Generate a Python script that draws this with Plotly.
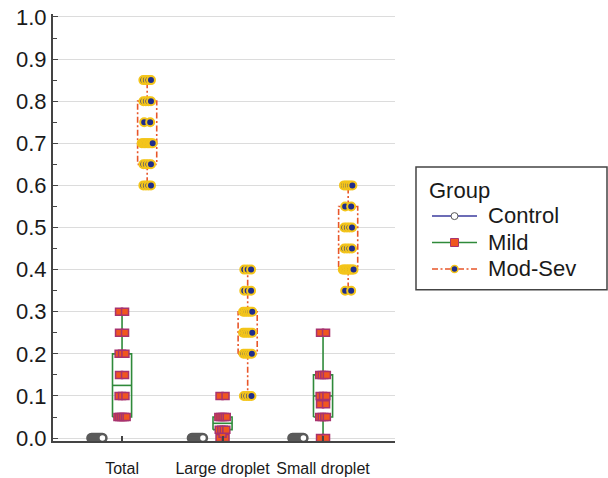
import numpy as np
import plotly.graph_objects as go

# ---- data -------------------------------------------------------------
categories = ["Total", "Large droplet", "Small droplet"]
group_names = ["Control", "Mild", "Mod-Sev"]

control_total = [0.0, 0.0, 0.0, 0.0, 0.0, 0.0, 0.0, 0.0, 0.0, 0.0, 0.0, 0.0]
control_large = [0.0, 0.0, 0.0, 0.0, 0.0, 0.0, 0.0, 0.0, 0.0, 0.0, 0.0, 0.0]
control_small = [0.0, 0.0, 0.0, 0.0, 0.0, 0.0, 0.0, 0.0, 0.0, 0.0, 0.0, 0.0]

mild_total = [0.05, 0.05, 0.05, 0.05, 0.05, 0.05, 0.10, 0.10, 0.10,
              0.15, 0.15, 0.20, 0.20, 0.20, 0.25, 0.25, 0.30, 0.30]
mild_large = [0.0, 0.0, 0.01, 0.02, 0.02, 0.02, 0.02,
              0.05, 0.05, 0.05, 0.05, 0.05, 0.10, 0.10]
mild_small = [0.0, 0.0, 0.05, 0.05, 0.05, 0.05, 0.08, 0.08, 0.10, 0.10, 0.10,
              0.15, 0.15, 0.15, 0.15, 0.25, 0.25]

modsev_total = [0.60, 0.60, 0.60, 0.60, 0.65, 0.65, 0.65, 0.65,
                0.70, 0.70, 0.70, 0.70, 0.70, 0.70, 0.70, 0.70, 0.70,
                0.75, 0.75, 0.80, 0.80, 0.80, 0.80, 0.85, 0.85, 0.85, 0.85]
modsev_large = [0.10, 0.10, 0.10, 0.10, 0.20, 0.20, 0.20, 0.20, 0.20,
                0.25, 0.25, 0.25, 0.25, 0.25, 0.25,
                0.30, 0.30, 0.30, 0.30, 0.30, 0.30,
                0.35, 0.35, 0.35, 0.40, 0.40, 0.40]
modsev_small = [0.35, 0.35, 0.40, 0.40, 0.40, 0.40, 0.40, 0.40, 0.40, 0.40,
                0.45, 0.45, 0.45, 0.45, 0.50, 0.50, 0.50, 0.50,
                0.55, 0.55, 0.60, 0.60, 0.60, 0.60, 0.60]

series = {
    "Control": [control_total, control_large, control_small],
    "Mild": [mild_total, mild_large, mild_small],
    "Mod-Sev": [modsev_total, modsev_large, modsev_small],
}

# ---- styling ----------------------------------------------------------
FONT = "Arial, Liberation Sans, sans-serif"
DASHDOT = "6px,2.5px,2px,2.5px"
styles = {
    "Control": dict(line="#3b3b9e", dash="solid", symbol="circle", size=8,
                    fill="#ffffff", edge="#5a5a5a", edge_w=2.5,
                    leg_size=7, leg_edge_w=1),
    "Mild": dict(line="#2f8a3a", dash="solid", symbol="square", size=7,
                 fill="#f0561f", edge="#a8336e", edge_w=1.5,
                 leg_size=8, leg_edge_w=1),
    "Mod-Sev": dict(line="#e8562a", dash=DASHDOT, symbol="circle", size=8,
                    fill="#1f2d8c", edge="#f4c51a", edge_w=2,
                    leg_size=7, leg_edge_w=1.5),
}
group_offset = {"Control": -0.25, "Mild": 0.0, "Mod-Sev": 0.25}
BOX_W = 0.19
PX = 1 / 100.5  # data units per screen pixel along x


def spread(n):
    """Horizontal offsets (data units) for n tied points."""
    if n == 1:
        return np.array([0.0])
    span = min(11.0, 6.0 + 0.8 * (n - 2))
    return np.linspace(-span / 2, span / 2, n) * PX


def box_stats(vals):
    v = np.sort(np.asarray(vals, dtype=float))
    q1, med, q3 = np.percentile(v, [25, 50, 75], method="hazen")
    iqr = q3 - q1
    lo = v[v >= q1 - 1.5 * iqr].min()
    hi = v[v <= q3 + 1.5 * iqr].max()
    return q1, med, q3, lo, hi


fig = go.Figure()

# boxes
for g in group_names:
    st = styles[g]
    for ci, vals in enumerate(series[g]):
        cx = ci + group_offset[g]
        q1, med, q3, lo, hi = box_stats(vals)
        l, r = cx - BOX_W / 2, cx + BOX_W / 2
        xs = [l, r, r, l, l, None, l, r, None, cx, cx, None, cx, cx]
        ys = [q1, q1, q3, q3, q1, None, med, med, None, q3, hi, None, q1, lo]
        fig.add_trace(go.Scatter(
            x=xs, y=ys, mode="lines", showlegend=False, hoverinfo="skip",
            line=dict(color=st["line"], width=1.6, dash=st["dash"]),
        ))

# points, tied values spread sideways
for ci in range(len(categories)):
    for g in group_names:
        st = styles[g]
        vals = np.asarray(series[g][ci], dtype=float)
        xs, ys = [], []
        for v in sorted(set(vals.tolist())):
            n = int((vals == v).sum())
            xs.extend((ci + group_offset[g] + spread(n)).tolist())
            ys.extend([v] * n)
        fig.add_trace(go.Scatter(
            x=xs, y=ys, mode="markers", showlegend=False, name=g,
            marker=dict(symbol=st["symbol"], size=st["size"], color=st["fill"],
                        line=dict(color=st["edge"], width=st["edge_w"])),
        ))

# legend entries (label drawn a bit larger than the row height implies)
for g in group_names:
    st = styles[g]
    fig.add_trace(go.Scatter(
        x=[None], y=[None], mode="lines+markers",
        name='<span style="font-size:22px">\u00a0' + g + "</span>",
        line=dict(color=st["line"], width=1.5, dash=st["dash"]),
        marker=dict(symbol=st["symbol"], size=st["leg_size"], color=st["fill"],
                    line=dict(color=st["edge"], width=st["leg_edge_w"])),
    ))

# frame around the legend
fig.add_shape(type="rect", xref="paper", yref="paper",
              x0=1.0614, x1=1.6199, y0=0.354, y1=0.6414,
              line=dict(color="#444444", width=1.5), fillcolor="rgba(0,0,0,0)")

fig.update_layout(
    width=608, height=478,
    margin=dict(l=53, r=213, t=13.5, b=36.5, autoexpand=False),
    paper_bgcolor="white", plot_bgcolor="white",
    font=dict(family=FONT, color="#1a1a1a"),
    showlegend=True,
    legend=dict(
        title=dict(text="Group", font=dict(size=22, family=FONT)),
        font=dict(size=18, family=FONT),
        x=1.0936, xanchor="left", y=0.6363, yanchor="top",
        bgcolor="rgba(0,0,0,0)", borderwidth=0,
        tracegroupgap=0, itemwidth=45,
    ),
    xaxis=dict(
        range=[-0.687, 2.716], tickmode="array",
        tickvals=[0, 1, 2], ticktext=categories,
        ticks="inside", ticklen=5, tickwidth=1.5, tickcolor="#444444",
        showline=True, linecolor="#444444", linewidth=2,
        showgrid=False, zeroline=False, automargin=False,
        tickfont=dict(size=16, family=FONT, color="#1a1a1a"),
        ticklabelstandoff=12,
    ),
    yaxis=dict(
        range=[-0.007, 1.007], tickmode="linear", tick0=0, dtick=0.1,
        tickformat=".1f", automargin=False,
        ticks="inside", ticklen=5, tickwidth=1.2, tickcolor="#444444",
        showline=True, linecolor="#444444", linewidth=2,
        showgrid=True, gridcolor="#dcdcdc", gridwidth=1, zeroline=False,
        tickfont=dict(size=22, family=FONT, color="#1a1a1a"),
        minor=dict(ticks="inside", ticklen=4, dtick=0.05, tickcolor="#444444",
                   showgrid=False),
    ),
)

fig.write_html("out.html")
